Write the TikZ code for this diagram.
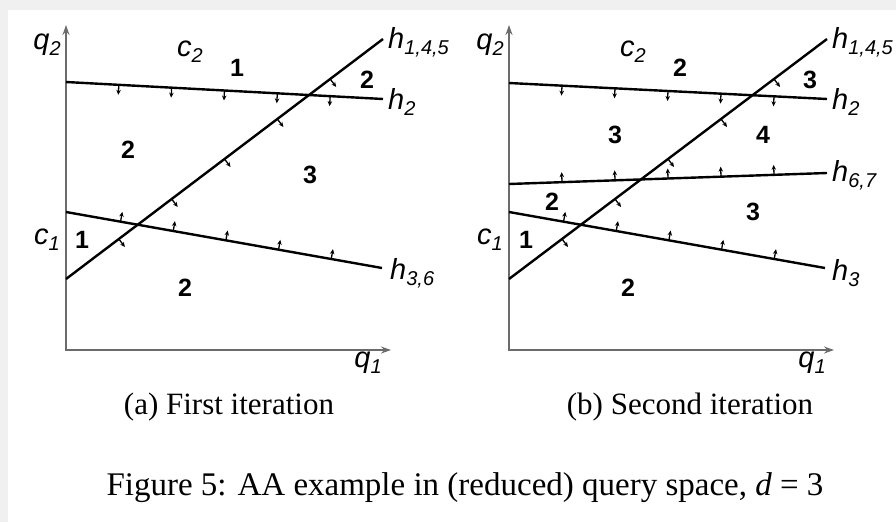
\documentclass[tikz,border=0pt]{standalone}
\usepackage{fontspec}
\setmainfont{Liberation Serif}
\newfontfamily\arialf{Liberation Sans}
\usetikzlibrary{arrows.meta,calc}
\newcommand\lsub[2]{#1\raisebox{-0.2em}{\fontsize{20}{20}\selectfont #2}}
\begin{document}
\begin{tikzpicture}[x=1pt,y=-1pt,
  hline/.style={line width=2.4pt, black},
  axis/.style={line width=2.8pt, black!58, {Stealth[length=10pt,width=7pt]}-{Stealth[length=10pt,width=7pt]}},
  tick/.style={line width=1.3pt, black, -{Stealth[length=5pt,width=4.5pt]}},
  lab/.style={font=\arialf\itshape\fontsize{29}{30}\selectfont, inner sep=0pt},
  num/.style={font=\arialf\bfseries\fontsize{25}{26}\selectfont, inner sep=0pt},
  capt/.style={font=\fontsize{31}{33}\selectfont, inner sep=0pt},
  bigcapt/.style={font=\fontsize{33}{35}\selectfont, inner sep=0pt}]
\useasboundingbox (0,0) rectangle (896,522);
\fill[black!6] (0,0) rectangle (896,10);
\fill[black!6] (0,0) rectangle (8,522);

% ---------- panel (a)
\begin{scope}
  \coordinate (aO) at (66,350);
  \coordinate (aY) at (66,25);
  \coordinate (aX) at (391,350);
  \draw[axis] (aY) -- (aO) -- (aX);
  \coordinate (a2s) at (66,82);  \coordinate (a2e) at (383,99);
  \coordinate (a1s) at (66,279); \coordinate (a1e) at (383,39);
  \coordinate (a3s) at (66,212); \coordinate (a3e) at (382,268);
  \draw[hline] (a2s) -- (a2e);
  \draw[hline] (a1s) -- (a1e);
  \draw[hline] (a3s) -- (a3e);
  \foreach \k in {1,...,5}{
    \coordinate (t) at ($(a2s)!\k/6!(a2e)$);
    \draw[tick] (t) -- ($(t)!10pt!-90:(a2e)$);
    \coordinate (t) at ($(a1s)!\k/6!(a1e)$);
    \draw[tick] (t) -- ($(t)!10pt!-90:(a1e)$);
    \coordinate (t) at ($(a3s)!\k/6+0.006!(a3e)$);
    \draw[tick] (t) -- ($(t)!10pt!90:(a3e)$);
  }
  \node[lab] (aq2) at (47,45) {\lsub{q}{2}};
  \node[lab] (ac2) at (190,52) {\lsub{c}{2}};
  \node[lab] (ac1) at (47,240) {\lsub{c}{1}};
  \node[lab] (aq1) at (368,363) {\lsub{q}{1}};
  \node[lab,anchor=west] (ah1) at (388,42) {\lsub{h}{1,4,5}};
  \node[lab,anchor=west] (ah2) at (388,102) {\lsub{h}{2}};
  \node[lab,anchor=west] (ah3) at (390,273) {\lsub{h}{3,6}};
  \node[num] (an1) at (237,68) {1};
  \node[num] (an2) at (367,80) {2};
  \node[num] (an3) at (128,150) {2};
  \node[num] (an4) at (310,175) {3};
  \node[num] (an5) at (82,240) {1};
  \node[num] (an6) at (185,288) {2};
\end{scope}

% ---------- panel (b)
\begin{scope}[xshift=443pt]
  \coordinate (bO) at (66,350);
  \coordinate (bY) at (66,25);
  \coordinate (bX) at (391,350);
  \draw[axis] (bY) -- (bO) -- (bX);
  \coordinate (b2s) at (66,83);  \coordinate (b2e) at (384,99);
  \coordinate (b1s) at (66,279); \coordinate (b1e) at (384,39);
  \coordinate (b6s) at (66,184); \coordinate (b6e) at (384,173);
  \coordinate (b3s) at (66,212); \coordinate (b3e) at (382,268);
  \draw[hline] (b2s) -- (b2e);
  \draw[hline] (b1s) -- (b1e);
  \draw[hline] (b6s) -- (b6e);
  \draw[hline] (b3s) -- (b3e);
  \foreach \k in {1,...,5}{
    \coordinate (t) at ($(b2s)!\k/6!(b2e)$);
    \draw[tick] (t) -- ($(t)!10pt!-90:(b2e)$);
    \coordinate (t) at ($(b1s)!\k/6!(b1e)$);
    \draw[tick] (t) -- ($(t)!10pt!-90:(b1e)$);
    \coordinate (t) at ($(b6s)!\k/6!(b6e)$);
    \draw[tick] (t) -- ($(t)!10pt!90:(b6e)$);
    \coordinate (t) at ($(b3s)!\k/6+0.006!(b3e)$);
    \draw[tick] (t) -- ($(t)!10pt!90:(b3e)$);
  }
  \node[lab] (bq2) at (47,45) {\lsub{q}{2}};
  \node[lab] (bc2) at (190,52) {\lsub{c}{2}};
  \node[lab] (bc1) at (47,240) {\lsub{c}{1}};
  \node[lab] (bq1) at (369,363) {\lsub{q}{1}};
  \node[lab,anchor=west] (bh1) at (389,42) {\lsub{h}{1,4,5}};
  \node[lab,anchor=west] (bh2) at (389,102) {\lsub{h}{2}};
  \node[lab,anchor=west] (bh6) at (389,175) {\lsub{h}{6,7}};
  \node[lab,anchor=west] (bh3) at (389,273) {\lsub{h}{3}};
  \node[num] (bn1) at (237,68) {2};
  \node[num] (bn2) at (367,80) {3};
  \node[num] (bn3) at (172,135) {3};
  \node[num] (bn4) at (320,135) {4};
  \node[num] (bn5) at (109,202) {2};
  \node[num] (bn6) at (310,212) {3};
  \node[num] (bn7) at (83,240) {1};
  \node[num] (bn8) at (185,288) {2};
\end{scope}

\node[capt] (capa) at (229,407) {(a) First iteration};
\node[capt] (capb) at (690,407) {(b) Second iteration};
\node[bigcapt] (capf) at (465,488) {Figure 5: AA example in (reduced) query space, \textit{d} = 3};
\end{tikzpicture}
\end{document}
